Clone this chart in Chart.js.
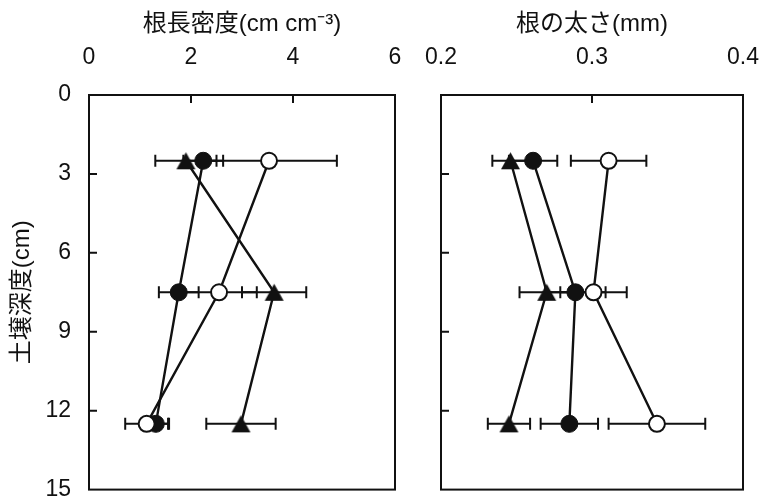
<!DOCTYPE html>
<html>
<head>
<meta charset="utf-8">
<script src="https://cdn.jsdelivr.net/npm/chart.js@4/dist/chart.umd.min.js"></script>
<style>
  html, body { margin: 0; padding: 0; background: #fff; }
  #wrap { position: relative; width: 760px; height: 502px; }
  #wrap canvas { position: absolute; left: 0; top: 0; }
</style>
</head>
<body>
<div id="wrap">
  <canvas id="c1" width="760" height="502"></canvas>
  <canvas id="c2" width="760" height="502"></canvas>
</div>
<script>
// ---- data (depth in cm) ----
const depths = [2.5, 7.5, 12.5];

// root length density (cm cm-3)
const rldOpen = [3.53, 2.55, 1.13];
const rldOpenErr = [1.33, 0.74, 0.42];
const rldFilled = [2.24, 1.76, 1.31];
const rldFilledErr = [0.39, 0.39, 0.26];
const rldTri = [1.90, 3.63, 2.98];
const rldTriErr = [0.60, 0.63, 0.68];

// root diameter (mm)
const diaOpen = [0.311, 0.301, 0.343];
const diaOpenErr = [0.025, 0.022, 0.032];
const diaFilled = [0.261, 0.289, 0.285];
const diaFilledErr = [0.016, 0.020, 0.019];
const diaTri = [0.246, 0.270, 0.245];
const diaTriErr = [0.012, 0.018, 0.014];

// axis labels
const rldTitle = '根長密度(cm cm⁻³)';
const diaTitle = '根の太さ(mm)';
const depthTitle = '土壌深度(cm)';

const LATIN = '"Liberation Sans", Arial, "Noto Sans CJK JP", sans-serif';

function pts(xs) { return xs.map((v, i) => ({ x: v, y: depths[i] })); }

// triangle marker centred on its bounding box
function triangleMarker(w, h) {
  const c = document.createElement('canvas');
  c.width = w + 2; c.height = h + 2;
  const g = c.getContext('2d');
  g.fillStyle = '#111';
  g.beginPath();
  g.moveTo(c.width / 2, 1);
  g.lineTo(c.width - 1, c.height - 1);
  g.lineTo(1, c.height - 1);
  g.closePath();
  g.fill();
  return c;
}
const TRI = triangleMarker(19, 17);

function makeSets(open, openErr, filled, filledErr, tri, triErr) {
  const base = { borderColor: '#111', borderWidth: 2.4, showLine: true, tension: 0, pointBorderColor: '#111' };
  return [
    Object.assign({}, base, { label: 'open', data: pts(open), errors: openErr, pointStyle: 'circle', pointRadius: 8, pointBackgroundColor: '#fff', pointBorderWidth: 2 }),
    Object.assign({}, base, { label: 'filled', data: pts(filled), errors: filledErr, pointStyle: 'circle', pointRadius: 8.5, pointBackgroundColor: '#111', pointBorderWidth: 1 }),
    Object.assign({}, base, { label: 'tri', data: pts(tri), errors: triErr, pointStyle: TRI, pointRadius: 10 })
  ];
}

const errorBars = {
  id: 'errorBars',
  beforeDatasetsDraw(chart) {
    const ctx = chart.ctx, xs = chart.scales.x, ys = chart.scales.y;
    ctx.save();
    ctx.strokeStyle = '#111';
    ctx.lineWidth = 2;
    chart.data.datasets.forEach(ds => {
      ds.data.forEach((p, i) => {
        const e = ds.errors[i];
        const x1 = xs.getPixelForValue(p.x - e), x2 = xs.getPixelForValue(p.x + e);
        const y = ys.getPixelForValue(p.y);
        ctx.beginPath();
        ctx.moveTo(x1, y); ctx.lineTo(x2, y);
        ctx.moveTo(x1, y - 6); ctx.lineTo(x1, y + 6);
        ctx.moveTo(x2, y - 6); ctx.lineTo(x2, y + 6);
        ctx.stroke();
      });
    });
    ctx.restore();
  }
};

const frame = {
  id: 'frame',
  afterDraw(chart) {
    const ctx = chart.ctx, a = chart.chartArea, xs = chart.scales.x, ys = chart.scales.y;
    ctx.save();
    ctx.strokeStyle = '#111';
    ctx.lineWidth = 2;
    ctx.strokeRect(a.left, a.top, a.right - a.left, a.bottom - a.top);
    ctx.beginPath();
    xs.ticks.forEach(t => {
      if (t.value <= xs.min + 1e-9 || t.value >= xs.max - 1e-9) return;
      const x = xs.getPixelForValue(t.value);
      ctx.moveTo(x, a.top); ctx.lineTo(x, a.top + 8);
    });
    ys.ticks.forEach(t => {
      if (t.value <= ys.min + 1e-9 || t.value >= ys.max - 1e-9) return;
      const y = ys.getPixelForValue(t.value);
      ctx.moveTo(a.left, y); ctx.lineTo(a.left + 8, y);
    });
    ctx.stroke();
    ctx.restore();
  }
};

function xAxis(min, max, step, title, fmt) {
  return {
    type: 'linear', position: 'top', min: min, max: max,
    grid: { display: false, drawTicks: false },
    border: { display: false },
    ticks: { stepSize: step, padding: 24, color: '#111', font: { family: LATIN, size: 23 }, callback: fmt, maxRotation: 0 },
    title: { display: true, text: title, color: '#111', font: { family: LATIN, size: 24 }, padding: { top: 10, bottom: 0 } },
    afterFit: s => { s.height = 95; s.paddingLeft = 0; s.paddingRight = 0; }
  };
}

Chart.defaults.animation = false;
Chart.defaults.plugins.legend.display = false;
Chart.defaults.plugins.tooltip.enabled = false;

new Chart(document.getElementById('c1'), {
  type: 'scatter',
  data: { datasets: makeSets(rldOpen, rldOpenErr, rldFilled, rldFilledErr, rldTri, rldTriErr) },
  options: {
    responsive: false,
    layout: { padding: { left: 0, top: 0, right: 365, bottom: 9 } },
    scales: {
      x: xAxis(0, 6, 2, rldTitle, v => String(v)),
      y: {
        type: 'linear', reverse: true, min: 0, max: 15,
        grid: { display: false, drawTicks: false },
        border: { display: false },
        ticks: { stepSize: 3, padding: 18, color: '#111', font: { family: LATIN, size: 23 } },
        title: { display: true, text: depthTitle, color: '#111', font: { family: LATIN, size: 24 }, padding: { top: 8, bottom: 0 } },
        afterFit: s => { s.width = 89; s.paddingTop = 0; s.paddingBottom = 0; }
      }
    }
  },
  plugins: [errorBars, frame]
});

new Chart(document.getElementById('c2'), {
  type: 'scatter',
  data: { datasets: makeSets(diaOpen, diaOpenErr, diaFilled, diaFilledErr, diaTri, diaTriErr) },
  options: {
    responsive: false,
    layout: { padding: { left: 441, top: 0, right: 17, bottom: 9 } },
    scales: {
      x: xAxis(0.2, 0.4, 0.1, diaTitle, v => Number(v).toFixed(1)),
      y: { type: 'linear', reverse: true, min: 0, max: 15, display: false, ticks: { stepSize: 3 } }
    }
  },
  plugins: [errorBars, frame]
});
</script>
</body>
</html>
